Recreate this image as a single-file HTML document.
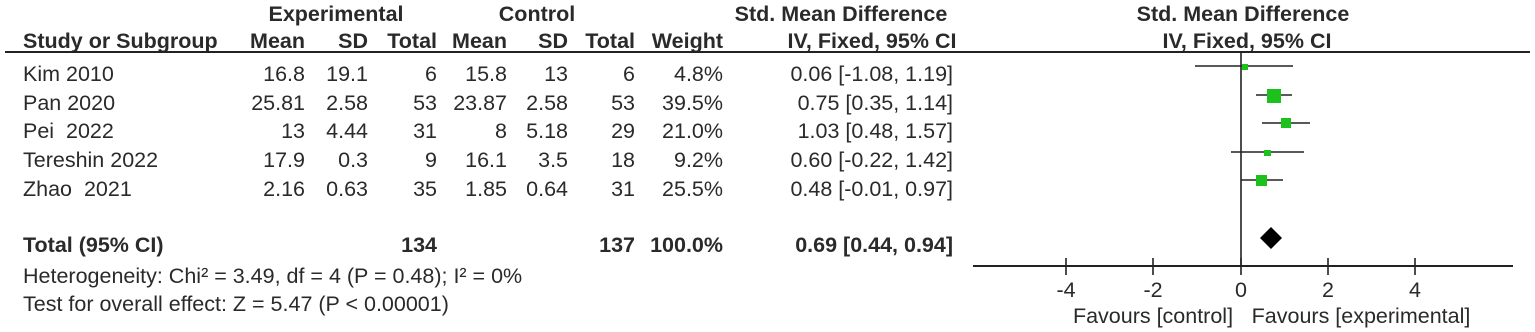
<!DOCTYPE html>
<html><head><style>
html,body{margin:0;padding:0;background:#fff;}
svg{display:block;font-family:"Liberation Sans",Arial,sans-serif;}
text{fill:#2a2a2a;font-size:21.5px;}
.b{font-weight:bold;}
.r{text-anchor:end;}
.c{text-anchor:middle;}
</style></head><body>
<svg width="1535" height="332" viewBox="0 0 1535 332">
<!-- headers -->
<text class="b c" x="336" y="21">Experimental</text>
<text class="b c" x="537" y="21">Control</text>
<text class="b c" x="841" y="21">Std. Mean Difference</text>
<text class="b c" x="1243" y="21">Std. Mean Difference</text>
<text class="b" x="23" y="48">Study or Subgroup</text>
<text class="b r" x="305" y="48">Mean</text>
<text class="b r" x="368" y="48">SD</text>
<text class="b r" x="437" y="48">Total</text>
<text class="b r" x="507" y="48">Mean</text>
<text class="b r" x="568" y="48">SD</text>
<text class="b r" x="635" y="48">Total</text>
<text class="b r" x="723" y="48">Weight</text>
<text class="b c" x="872" y="48">IV, Fixed, 95% CI</text>
<text class="b c" x="1247" y="48">IV, Fixed, 95% CI</text>
<line x1="5" y1="52" x2="1530" y2="52" stroke="#222" stroke-width="2"/>
<!-- rows -->
<g>
<text x="23" y="81">Kim 2010</text><text class="r" x="305" y="81">16.8</text><text class="r" x="368" y="81">19.1</text><text class="r" x="437" y="81">6</text><text class="r" x="507" y="81">15.8</text><text class="r" x="568" y="81">13</text><text class="r" x="635" y="81">6</text><text class="r" x="723" y="81">4.8%</text><text class="r" x="953" y="81">0.06 [-1.08, 1.19]</text>
<text x="23" y="110">Pan 2020</text><text class="r" x="305" y="110">25.81</text><text class="r" x="368" y="110">2.58</text><text class="r" x="437" y="110">53</text><text class="r" x="507" y="110">23.87</text><text class="r" x="568" y="110">2.58</text><text class="r" x="635" y="110">53</text><text class="r" x="723" y="110">39.5%</text><text class="r" x="953" y="110">0.75 [0.35, 1.14]</text>
<text x="23" y="138">Pei&#160; 2022</text><text class="r" x="305" y="138">13</text><text class="r" x="368" y="138">4.44</text><text class="r" x="437" y="138">31</text><text class="r" x="507" y="138">8</text><text class="r" x="568" y="138">5.18</text><text class="r" x="635" y="138">29</text><text class="r" x="723" y="138">21.0%</text><text class="r" x="953" y="138">1.03 [0.48, 1.57]</text>
<text x="23" y="167">Tereshin 2022</text><text class="r" x="305" y="167">17.9</text><text class="r" x="368" y="167">0.3</text><text class="r" x="437" y="167">9</text><text class="r" x="507" y="167">16.1</text><text class="r" x="568" y="167">3.5</text><text class="r" x="635" y="167">18</text><text class="r" x="723" y="167">9.2%</text><text class="r" x="953" y="167">0.60 [-0.22, 1.42]</text>
<text x="23" y="196">Zhao&#160; 2021</text><text class="r" x="305" y="196">2.16</text><text class="r" x="368" y="196">0.63</text><text class="r" x="437" y="196">35</text><text class="r" x="507" y="196">1.85</text><text class="r" x="568" y="196">0.64</text><text class="r" x="635" y="196">31</text><text class="r" x="723" y="196">25.5%</text><text class="r" x="953" y="196">0.48 [-0.01, 0.97]</text>
<text class="b" x="23" y="252">Total (95% CI)</text><text class="b r" x="437" y="252">134</text><text class="b r" x="635" y="252">137</text><text class="b r" x="723" y="252">100.0%</text><text class="b r" x="953" y="252">0.69 [0.44, 0.94]</text>
<text x="23" y="283">Heterogeneity: Chi² = 3.49, df = 4 (P = 0.48); I² = 0%</text>
<text x="23" y="311">Test for overall effect: Z = 5.47 (P &lt; 0.00001)</text>
</g>
<!-- plot -->
<g stroke="#222" stroke-width="1.6">
<line x1="1241" y1="52" x2="1241" y2="266"/>
<line x1="973" y1="266" x2="1513" y2="266" stroke-width="2"/>
<line x1="1066" y1="258" x2="1066" y2="275"/>
<line x1="1153" y1="258" x2="1153" y2="275"/>
<line x1="1241" y1="258" x2="1241" y2="275"/>
<line x1="1328" y1="258" x2="1328" y2="275"/>
<line x1="1415" y1="258" x2="1415" y2="275"/>
<line x1="1195" y1="66" x2="1293" y2="66"/>
<line x1="1256" y1="95" x2="1292" y2="95"/>
<line x1="1262" y1="123" x2="1310" y2="123"/>
<line x1="1231" y1="152" x2="1304" y2="152"/>
<line x1="1241" y1="180" x2="1283" y2="180"/>
</g>
<g fill="#1cc11c">
<rect x="1242" y="64" width="6" height="6"/>
<rect x="1267" y="89" width="14" height="14"/>
<rect x="1281" y="118" width="10" height="10"/>
<rect x="1264" y="150" width="7" height="6"/>
<rect x="1256" y="175" width="11" height="11"/>
</g>
<polygon points="1260,238 1271,227 1282,238 1271,249" fill="#000"/>
<text class="c" x="1066" y="297">-4</text>
<text class="c" x="1153" y="297">-2</text>
<text class="c" x="1241" y="297">0</text>
<text class="c" x="1328" y="297">2</text>
<text class="c" x="1415" y="297">4</text>
<text class="c" x="1153" y="323">Favours [control]</text>
<text class="c" x="1361" y="323">Favours [experimental]</text>
</svg>
</body></html>
